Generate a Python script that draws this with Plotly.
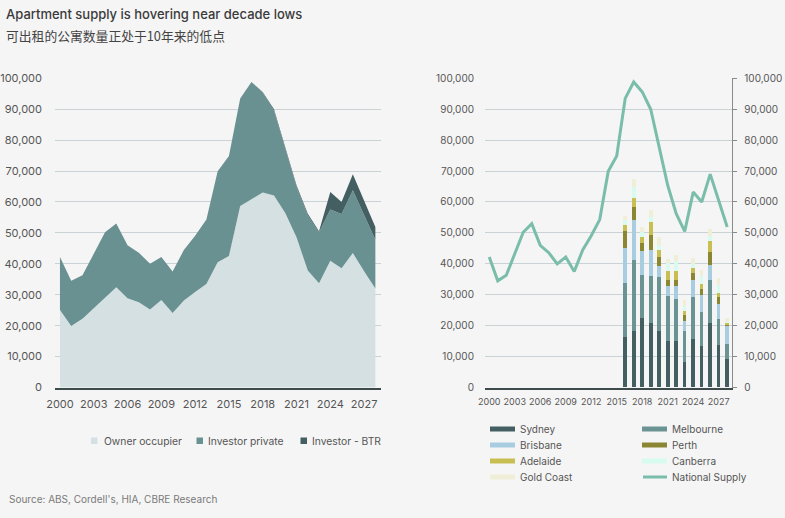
import plotly.graph_objects as go

W, H = 785, 518

# ---------------- data ----------------
years = list(range(2000, 2029))

owner_occupier = [25100, 19900, 22200, 25700, 28900, 32400, 28900, 27600, 25200, 28300,
                  24100, 28100, 30900, 33500, 40500, 42500, 58700, 60800, 63100, 62100,
                  56400, 48600, 37800, 33700, 41000, 38600, 43500, 37600, 32000]
investor_private = [17100, 14600, 14100, 17600, 21300, 20600, 17100, 16000, 14800, 13900,
                    13400, 16400, 18200, 20800, 29400, 32400, 34800, 38000, 32300, 27400,
                    20900, 16300, 17800, 16500, 16600, 17500, 20300, 18000, 15800]
investor_btr = [0, 0, 0, 0, 0, 0, 0, 0, 0, 0,
                0, 0, 0, 0, 0, 0, 0, 0, 200, 500,
                500, 500, 600, 300, 5600, 3900, 5200, 4800, 4100]

national_supply = [42200, 34500, 36300, 43300, 50200, 53000, 46000, 43600, 40000, 42200,
                   37500, 44500, 49100, 54300, 69900, 74900, 93500, 98800, 95600, 90000,
                   77800, 65400, 56200, 50500, 63200, 60000, 69000, 60400, 51900]

bar_years = list(range(2016, 2029))
sydney = [16200, 18200, 22300, 20800, 18200, 15000, 15000, 8200, 15600, 13400, 20900, 13600, 9200]
melbourne = [17500, 22900, 14100, 15300, 17500, 14600, 13600, 9900, 13600, 11000, 13800, 8300, 4700]
brisbane = [11400, 12900, 7500, 8400, 3400, 3000, 4000, 3200, 5600, 5400, 4800, 4900, 5900]
perth = [5300, 4200, 2600, 4700, 2900, 2200, 2200, 2000, 2000, 1900, 4200, 2400, 500]
adelaide = [2200, 3100, 2000, 4300, 2300, 2700, 2700, 1300, 1600, 1700, 3700, 1200, 500]
canberra = [1400, 3500, 1700, 1500, 1800, 2700, 3300, 1700, 1300, 2600, 1400, 2600, 300]
gold_coast = [1500, 2400, 1600, 2200, 2500, 1400, 2100, 2000, 2100, 1900, 2500, 2400, 1200]

tick_years = list(range(2000, 2028, 3))
y_ticks = list(range(0, 100001, 10000))

title_text = "Apartment supply is hovering near decade lows"
subtitle_text = "可出租的公寓数量正处于10年来的低点"
source_text = "Source: ABS, Cordell's, HIA, CBRE Research"

# ---------------- styles ----------------
BG = "#f5f5f5"
GRID = "#c9d2d4"
AXIS = "#3e4b4d"
TXT = "#555555"
FONT = "Inter"

c_owner = "#d4e0e2"
c_private = "#6a9191"
c_btr = "#445f61"

city_series = [
    ("Sydney", sydney, "#445f62"),
    ("Melbourne", melbourne, "#6a9393"),
    ("Brisbane", brisbane, "#a9cde0"),
    ("Perth", perth, "#8b8632"),
    ("Adelaide", adelaide, "#c9be52"),
    ("Canberra", canberra, "#d8fbef"),
    ("Gold Coast", gold_coast, "#f1eed8"),
]
c_nat = "#7bbdab"


def px(x):
    return x / W


def py(y):
    return 1 - y / H


fig = go.Figure()

# left stacked area chart
for name, vals, col in [("Owner occupier", owner_occupier, c_owner),
                        ("Investor private", investor_private, c_private),
                        ("Investor - BTR", investor_btr, c_btr)]:
    fig.add_trace(go.Scatter(x=years, y=vals, name=name, stackgroup="one",
                             mode="lines", line=dict(width=0, color=col),
                             fillcolor=col, xaxis="x", yaxis="y", showlegend=False))

# right chart bars
for name, vals, col in city_series:
    fig.add_trace(go.Bar(x=bar_years, y=vals, name=name, marker=dict(color=col, line=dict(width=0)),
                         width=0.42, xaxis="x2", yaxis="y2", showlegend=False))

fig.add_trace(go.Scatter(x=years, y=national_supply, name="National Supply", mode="lines",
                         line=dict(color=c_nat, width=3), xaxis="x2", yaxis="y3",
                         showlegend=False))

y_dom = [py(387.5), py(78.3)]

tickfont_l = dict(family=FONT, size=11, color=TXT)
tickfont_r = dict(family=FONT, size=10, color=TXT)

fig.update_layout(
    width=W, height=H,
    margin=dict(l=0, r=0, t=0, b=0, autoexpand=False),
    paper_bgcolor=BG, plot_bgcolor=BG,
    barmode="stack",
    bargap=0,
    xaxis=dict(domain=[px(55), px(381)], range=[1999.56, 2028.5],
               tickvals=tick_years, ticktext=[str(t) for t in tick_years],
               showgrid=False, zeroline=False, showline=True, linecolor=AXIS, linewidth=1.5,
               ticks="", tickfont=tickfont_l, ticklabelstandoff=6, anchor="y", automargin=False),
    yaxis=dict(domain=y_dom, range=[0, 100000], tickvals=y_ticks, tickformat=",d",
               showgrid=True, gridcolor=GRID, gridwidth=1, zeroline=False, showline=False,
               ticks="", tickfont=tickfont_l, ticklabelstandoff=12, anchor="x", automargin=False),
    xaxis2=dict(domain=[px(485), px(732.3)], range=[1999.5, 2028.6],
                tickvals=tick_years, ticktext=[str(t) for t in tick_years],
                showgrid=False, zeroline=False, showline=True, linecolor=AXIS, linewidth=1.5,
                ticks="", tickfont=dict(family=FONT, size=9, color=TXT), ticklabelstandoff=5,
                anchor="y2", automargin=False),
    yaxis2=dict(domain=y_dom, range=[0, 100000], tickvals=y_ticks, tickformat=",d",
                showgrid=True, gridcolor=GRID, gridwidth=1, zeroline=False, showline=False,
                ticks="", tickfont=tickfont_r, ticklabelstandoff=10, anchor="x2", automargin=False),
    yaxis3=dict(domain=y_dom, range=[0, 100000], tickvals=y_ticks, tickformat=",d",
                overlaying="y2", side="right", anchor="x2",
                showgrid=False, zeroline=False, showline=True, linecolor="#8a8a8a", linewidth=1,
                ticks="outside", ticklen=4, tickcolor="#8a8a8a", tickfont=tickfont_r,
                ticklabelstandoff=5, automargin=False),
)

annotations = []
shapes = []

annotations.append(dict(x=px(4), y=py(14), xref="paper", yref="paper", xanchor="left",
                        yanchor="middle", showarrow=False, text=title_text,
                        font=dict(family=FONT, size=13, color="#3a3a3a", weight=500)))
annotations.append(dict(x=px(4), y=py(36), xref="paper", yref="paper", xanchor="left",
                        yanchor="middle", showarrow=False, text=subtitle_text,
                        font=dict(family="Noto Sans CJK SC", size=12.8, color="#444444")))
annotations.append(dict(x=px(7), y=py(499), xref="paper", yref="paper", xanchor="left",
                        yanchor="middle", showarrow=False, text=source_text,
                        font=dict(family=FONT, size=10, color="#7a7a7a")))

# left legend
for name, col, sx, tx in [("Owner occupier", c_owner, 91, 101.5),
                          ("Investor private", c_private, 196.5, 205.5),
                          ("Investor - BTR", c_btr, 300.5, 310)]:
    shapes.append(dict(type="rect", xref="paper", yref="paper", x0=px(sx), x1=px(sx + 6.5),
                       y0=py(437.5), y1=py(444), fillcolor=col, line=dict(width=0)))
    annotations.append(dict(x=px(tx), y=py(440.7), xref="paper", yref="paper", xanchor="left",
                            yanchor="middle", showarrow=False, text=name,
                            font=dict(family=FONT, size=10.3, color=TXT)))

# right legend (two columns)
rows = [429, 445, 461, 477]
col1 = [city_series[0], city_series[2], city_series[4], city_series[6]]
col2 = [city_series[1], city_series[3], city_series[5]]
for (name, _, col), ry in zip(col1, rows):
    shapes.append(dict(type="rect", xref="paper", yref="paper", x0=px(490), x1=px(515),
                       y0=py(ry + 2.5), y1=py(ry - 2.5), fillcolor=col, line=dict(width=0)))
    annotations.append(dict(x=px(517.5), y=py(ry), xref="paper", yref="paper", xanchor="left",
                            yanchor="middle", showarrow=False, text=name,
                            font=dict(family=FONT, size=10, color=TXT)))
for (name, _, col), ry in zip(col2, rows[:3]):
    shapes.append(dict(type="rect", xref="paper", yref="paper", x0=px(642), x1=px(667),
                       y0=py(ry + 2.5), y1=py(ry - 2.5), fillcolor=col, line=dict(width=0)))
    annotations.append(dict(x=px(669.5), y=py(ry), xref="paper", yref="paper", xanchor="left",
                            yanchor="middle", showarrow=False, text=name,
                            font=dict(family=FONT, size=10, color=TXT)))
shapes.append(dict(type="line", xref="paper", yref="paper", x0=px(643), x1=px(667),
                   y0=py(477), y1=py(477), line=dict(color=c_nat, width=3)))
annotations.append(dict(x=px(669.5), y=py(477), xref="paper", yref="paper", xanchor="left",
                        yanchor="middle", showarrow=False, text="National Supply",
                        font=dict(family=FONT, size=10, color=TXT)))

fig.update_layout(annotations=annotations, shapes=shapes)

fig.write_html(
    "out.html",
    config={"displayModeBar": False},
    post_script="document.body.style.margin='0';document.body.style.overflow='hidden';",
)
